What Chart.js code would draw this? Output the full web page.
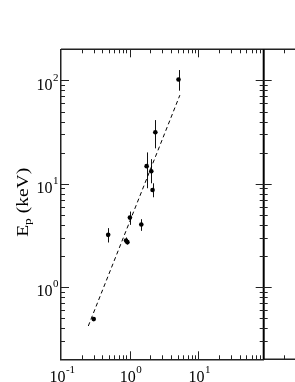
<!DOCTYPE html>
<html><head><meta charset="utf-8">
<script src="https://cdn.jsdelivr.net/npm/chart.js@4/dist/chart.umd.min.js"></script>
<style>html,body{margin:0;padding:0;background:#fff;overflow:hidden}#wrap{width:295px;height:382px;position:relative}</style>
</head><body><div id="wrap"><canvas id="c"></canvas></div>
<script>
// data
const xValues  = [5.16, 2.37, 1.77, 2.07, 2.16, 1.01, 1.48, 0.487, 0.887, 0.929, 0.30];
const epValues = [102, 31.5, 14.8, 13.2, 8.7, 4.7, 4.03, 3.2, 2.82, 2.72, 0.49];
const epLow    = [79.5, 22, 9.05, 10.1, 7.4, 4.0, 3.5, 2.7, 2.62, 2.58, 0.47];
const epHigh   = [126, 41.3, 20.1, 17.3, 10.1, 5.38, 4.54, 3.72, 3.02, 2.88, 0.51];
const fitX = [0.25, 5.4];
const fitY = [0.42, 72];
const xTickValues = [0.1, 1, 10];
const xTickExponents = ['-1', '0', '1'];
const yTickValues = [1, 10, 100];
const yTickExponents = ['0', '1', '2'];
const yTitleMain = 'E';
const yTitleSub = 'p';
const yTitleRest = ' (keV)';

const FONT = '"Liberation Serif", "Times New Roman", serif';
const AX = '#222';

function minorValues(min, max) {
  const out = [];
  for (let e = Math.floor(Math.log10(min)) ; e <= Math.ceil(Math.log10(max)); e++) {
    for (let m = 1; m <= 9; m++) {
      const v = m * Math.pow(10, e);
      if (v >= min * 0.9999 && v <= max * 1.0001) out.push({v, major: m === 1});
    }
  }
  return out;
}

const deco = {
  id: 'deco',
  beforeDatasetsDraw(chart) {
    const ctx = chart.ctx, xs = chart.scales.x, ys = chart.scales.y;
    ctx.save();
    ctx.strokeStyle = '#111';
    ctx.lineWidth = 1;
    for (let i = 0; i < xValues.length; i++) {
      const px = Math.round(xs.getPixelForValue(xValues[i])) + 0.5;
      ctx.beginPath();
      ctx.moveTo(px, ys.getPixelForValue(epLow[i]));
      ctx.lineTo(px, ys.getPixelForValue(epHigh[i]));
      ctx.stroke();
    }
    ctx.restore();
  },
  afterDraw(chart) {
    const ctx = chart.ctx, xs = chart.scales.x, ys = chart.scales.y;
    const a = chart.chartArea, W = chart.width;
    ctx.save();
    ctx.strokeStyle = AX;
    // top line and bottom extension
    ctx.lineWidth = 1.5;
    ctx.beginPath();
    ctx.moveTo(a.left, a.top); ctx.lineTo(W, a.top);
    ctx.moveTo(a.right, a.bottom); ctx.lineTo(W, a.bottom);
    ctx.stroke();
    // right axis
    ctx.lineWidth = 2;
    ctx.strokeStyle = '#000';
    ctx.beginPath();
    ctx.moveTo(a.right, a.top); ctx.lineTo(a.right, a.bottom);
    ctx.stroke();
    ctx.strokeStyle = AX;
    ctx.lineWidth = 1;
    // x ticks
    ctx.beginPath();
    for (const t of minorValues(xs.min, xs.max)) {
      const px = Math.round(xs.getPixelForValue(t.v)) + 0.5;
      if (px <= a.left + 1 || px >= a.right - 1) continue;
      const L = t.major ? 8 : 4;
      ctx.moveTo(px, a.bottom); ctx.lineTo(px, a.bottom - L);
      ctx.moveTo(px, a.top); ctx.lineTo(px, a.top + L);
    }
    // neighbouring panel tick
    const npx = Math.round(a.right + 20) + 0.5;
    ctx.moveTo(npx, a.bottom); ctx.lineTo(npx, a.bottom - 4);
    ctx.moveTo(npx, a.top); ctx.lineTo(npx, a.top + 4);
    // y ticks
    for (const t of minorValues(ys.min, ys.max)) {
      const py = Math.round(ys.getPixelForValue(t.v)) + 0.5;
      if (py <= a.top + 1 || py >= a.bottom - 1) continue;
      const L = t.major ? 8 : 4;
      ctx.moveTo(a.left, py); ctx.lineTo(a.left + L, py);
      ctx.moveTo(a.right - L, py); ctx.lineTo(a.right + L, py);
    }
    ctx.stroke();

    // tick labels with superscripts
    ctx.fillStyle = '#000';
    ctx.textBaseline = 'alphabetic';
    ctx.textAlign = 'left';
    const mainF = '16px ' + FONT, supF = '11px ' + FONT;
    yTickValues.forEach((v, i) => {
      const py = ys.getPixelForValue(v);
      const x0 = a.left - 24.5;
      ctx.font = mainF; ctx.fillText('10', x0, py + 9.4);
      const w = ctx.measureText('10').width;
      ctx.font = supF; ctx.fillText(yTickExponents[i], x0 + w + 0.5, py + 0.3);
    });
    xTickValues.forEach((v, i) => {
      const px = xs.getPixelForValue(v);
      ctx.font = mainF; const w = ctx.measureText('10').width;
      ctx.font = supF; const ws = ctx.measureText(xTickExponents[i]).width;
      const x0 = px - (w + ws) / 2 + 1;
      const base = a.bottom + 22.2;
      ctx.font = mainF; ctx.fillText('10', x0, base);
      ctx.font = supF; ctx.fillText(xTickExponents[i], x0 + w + 0.5, base - 8.5);
    });

    // y axis title
    ctx.save();
    ctx.translate(28, (a.top + a.bottom) / 2 - 2);
    ctx.rotate(-Math.PI / 2);
    ctx.scale(1.22, 1);
    ctx.font = mainF; const wE = ctx.measureText(yTitleMain).width;
    ctx.font = supF; const wp = ctx.measureText(yTitleSub).width;
    ctx.font = mainF; const wr = ctx.measureText(yTitleRest).width;
    let x0 = -(wE + wp + wr) / 2;
    ctx.font = mainF; ctx.fillText(yTitleMain, x0, 0);
    ctx.font = supF; ctx.fillText(yTitleSub, x0 + wE, 3);
    ctx.font = mainF; ctx.fillText(yTitleRest, x0 + wE + wp, 0);
    ctx.restore();
    ctx.restore();
  }
};

const points = xValues.map((x, i) => ({x, y: epValues[i]}));
const fitLine = fitX.map((x, i) => ({x, y: fitY[i]}));

new Chart(document.getElementById('c'), {
  type: 'scatter',
  data: {
    datasets: [
      {
        label: 'fit',
        type: 'line',
        data: fitLine,
        borderColor: '#000',
        borderWidth: 1,
        borderDash: [4, 3],
        pointRadius: 0,
        fill: false,
        tension: 0
      },
      {
        label: 'Ep',
        data: points,
        pointRadius: 2.3,
        pointBackgroundColor: '#000',
        pointBorderColor: '#000',
        pointBorderWidth: 0
      }
    ]
  },
  options: {
    responsive: true,
    maintainAspectRatio: false,
    animation: false,
    devicePixelRatio: 1,
    layout: { padding: { top: 49.3, right: 31.3, left: 0, bottom: 0 } },
    plugins: { legend: { display: false }, tooltip: { enabled: false } },
    scales: {
      x: {
        type: 'logarithmic',
        min: 0.1, max: 90,
        grid: { display: false, drawTicks: false },
        ticks: { display: false },
        border: { display: true, color: AX, width: 1.5 },
        afterFit(s) { s.height = 22.7; }
      },
      y: {
        type: 'logarithmic',
        min: 0.2, max: 200,
        grid: { display: false, drawTicks: false },
        ticks: { display: false },
        border: { display: true, color: AX, width: 1.5 },
        afterFit(s) { s.width = 61; }
      }
    }
  },
  plugins: [deco]
});
</script>
</body></html>
